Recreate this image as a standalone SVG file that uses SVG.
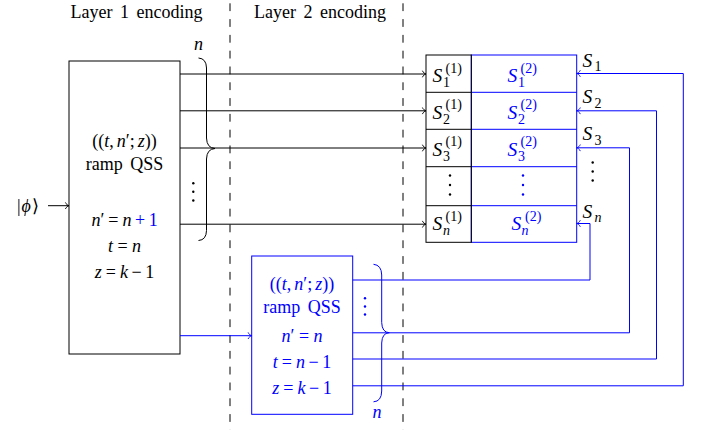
<svg xmlns="http://www.w3.org/2000/svg" width="704" height="430" viewBox="0 0 704 430" font-family="'Liberation Serif', 'Times New Roman', 'DejaVu Serif', serif">
<style>
text{font-family:'Liberation Serif','Times New Roman','DejaVu Serif',serif;font-size:18px;fill:#000}
.t{word-spacing:3px}
.m{font-style:italic}
.b{fill:#0000ff}
.S{font-size:19.5px;font-style:italic}
.sm{font-size:14px}
.mid{text-anchor:middle}
.k{stroke:#000;stroke-width:1;fill:none}
.bl{stroke:#0000ff;stroke-width:1;fill:none}
.dash{stroke:#000;stroke-width:1;stroke-dasharray:7.8 8}
</style>
<defs>
<marker id="ak" markerUnits="userSpaceOnUse" markerWidth="10" markerHeight="10" viewBox="-5 -5 10 10" refX="0" refY="0" orient="auto">
<path d="M-3.6,-3.3 C-3,-1.4 -1,-0.3 0,0 C-1,0.3 -3,1.4 -3.6,3.3" fill="none" stroke="#000" stroke-width="0.9"/>
</marker>
<marker id="ab" markerUnits="userSpaceOnUse" markerWidth="10" markerHeight="10" viewBox="-5 -5 10 10" refX="0" refY="0" orient="auto">
<path d="M-3.6,-3.3 C-3,-1.4 -1,-0.3 0,0 C-1,0.3 -3,1.4 -3.6,3.3" fill="none" stroke="#0000ff" stroke-width="0.9"/>
</marker>
</defs>
<rect width="704" height="430" fill="#fff"/>

<g id="layer-separators">
<line class="dash" x1="230" y1="3.3" x2="230" y2="430"/>
<line class="dash" x1="403" y1="3.3" x2="403" y2="430"/>
<text class="t mid" x="136.5" y="17.5">Layer 1 encoding</text>
<text class="t mid" x="320" y="17.5">Layer 2 encoding</text>
</g>

<g id="input">
<text x="17" y="212" font-size="20">|<tspan class="m" dx="1">ϕ</tspan><tspan dx="1">⟩</tspan></text>
</g>

<g id="layer1">
<rect class="k" x="69" y="61" width="111" height="293"/>
<text class="mid" x="124.5" y="146.5">((<tspan class="m">t</tspan>,<tspan class="m" dx="3">n</tspan>′;<tspan class="m" dx="3">z</tspan>))</text>
<text class="t mid" x="124.5" y="170">ramp QSS</text>
<text class="mid" x="124.5" y="225.5"><tspan class="m">n</tspan>′<tspan dx="4">=</tspan><tspan class="m" dx="4">n</tspan><tspan class="b" dx="3.5">+</tspan><tspan class="b" dx="3.5">1</tspan></text>
<text class="mid" x="124.5" y="251.5"><tspan class="m">t</tspan><tspan dx="4.5">=</tspan><tspan class="m" dx="4.5">n</tspan></text>
<text class="mid" x="124.5" y="277.5"><tspan class="m">z</tspan><tspan dx="4">=</tspan><tspan class="m" dx="4">k</tspan><tspan dx="3.5">−</tspan><tspan dx="3.5">1</tspan></text>
</g>

<g id="layer1-brace">
<path class="k" d="M198.5,58 Q206.3,58.5 206.5,68 L206.5,138 Q206.8,148 215,148.5 Q206.8,149 206.5,159 L206.5,230.5 Q206.3,240 198.5,240.5"/>
<text class="m mid" x="198.5" y="50">n</text>
<circle cx="193.3" cy="183.3" r="1.2"/>
<circle cx="193.3" cy="191.8" r="1.2"/>
<circle cx="193.3" cy="200.5" r="1.2"/>
</g>

<g id="layer2">
<rect class="bl" x="251.7" y="256" width="101" height="158.3"/>
<text class="b mid" x="302" y="289.5">((<tspan class="m">t</tspan>,<tspan class="m" dx="3">n</tspan>′;<tspan class="m" dx="3">z</tspan>))</text>
<text class="b t mid" x="302" y="313">ramp QSS</text>
<text class="b mid" x="302" y="341.5"><tspan class="m">n</tspan>′<tspan dx="4.5">=</tspan><tspan class="m" dx="4.5">n</tspan></text>
<text class="b mid" x="302" y="367.5"><tspan class="m">t</tspan><tspan dx="4">=</tspan><tspan class="m" dx="4">n</tspan><tspan dx="3.5">−</tspan><tspan dx="3.5">1</tspan></text>
<text class="b mid" x="302" y="393.5"><tspan class="m">z</tspan><tspan dx="4">=</tspan><tspan class="m" dx="4">k</tspan><tspan dx="3.5">−</tspan><tspan dx="3.5">1</tspan></text>
</g>

<g id="layer2-brace">
<path class="bl" d="M373.5,264.3 Q381.5,265 381.7,275 L381.7,322.5 Q382,332.5 389.3,332.7 Q382,333 381.7,343 L381.7,391 Q381.5,401.5 373.5,401.8"/>
<text class="b m mid" x="377" y="418">n</text>
<circle cx="365" cy="298.3" r="1.2" fill="#0000ff"/>
<circle cx="365" cy="306.5" r="1.2" fill="#0000ff"/>
<circle cx="365" cy="314.5" r="1.2" fill="#0000ff"/>
</g>

<g id="register">
<rect class="bl" x="471.3" y="55" width="105.4" height="187.3"/>
<line class="bl" x1="471.3" y1="92.3" x2="576.7" y2="92.3"/>
<line class="bl" x1="471.3" y1="129.3" x2="576.7" y2="129.3"/>
<line class="bl" x1="471.3" y1="166.7" x2="576.7" y2="166.7"/>
<line class="bl" x1="471.3" y1="205.7" x2="576.7" y2="205.7"/>
<rect class="k" x="426" y="55" width="45.3" height="187.3"/>
<line class="k" x1="426" y1="92.3" x2="471.3" y2="92.3"/>
<line class="k" x1="426" y1="129.3" x2="471.3" y2="129.3"/>
<line class="k" x1="426" y1="166.7" x2="471.3" y2="166.7"/>
<line class="k" x1="426" y1="205.7" x2="471.3" y2="205.7"/>

<text class="S" x="432.5" y="82">S</text><text class="sm" x="445.5" y="72.5">(1)</text><text class="sm" x="443" y="87">1</text>
<text class="S" x="432.5" y="118.5">S</text><text class="sm" x="445.5" y="109">(1)</text><text class="sm" x="443" y="123.5">2</text>
<text class="S" x="432.5" y="155.5">S</text><text class="sm" x="445.5" y="146">(1)</text><text class="sm" x="443" y="160.5">3</text>
<text class="S" x="432.5" y="230">S</text><text class="sm" x="445.5" y="220.5">(1)</text><text class="sm m" x="443" y="235">n</text>
<circle cx="450" cy="175.5" r="1.2"/><circle cx="450" cy="185" r="1.2"/><circle cx="450" cy="194.5" r="1.2"/>

<text class="S b" x="507.5" y="82">S</text><text class="sm b" x="520.5" y="72.5">(2)</text><text class="sm b" x="518" y="87">1</text>
<text class="S b" x="507.5" y="118.5">S</text><text class="sm b" x="520.5" y="109">(2)</text><text class="sm b" x="518" y="123.5">2</text>
<text class="S b" x="507.5" y="155.5">S</text><text class="sm b" x="520.5" y="146">(2)</text><text class="sm b" x="518" y="160.5">3</text>
<text class="S b" x="511.5" y="230">S</text><text class="sm b" x="525" y="220.5">(2)</text><text class="sm b m" x="521.5" y="235">n</text>
<circle cx="523" cy="175.5" r="1.2" fill="#0000ff"/><circle cx="523" cy="185" r="1.2" fill="#0000ff"/><circle cx="523" cy="194.5" r="1.2" fill="#0000ff"/>

<text class="S" x="582.5" y="66.7">S</text><text class="sm" x="594.5" y="71">1</text>
<text class="S" x="582.5" y="103.3">S</text><text class="sm" x="594.5" y="107.7">2</text>
<text class="S" x="582.5" y="140.3">S</text><text class="sm" x="594.5" y="144.7">3</text>
<text class="S" x="582.5" y="218">S</text><text class="sm m" x="594.5" y="222.4">n</text>
<circle cx="592.7" cy="162.5" r="1.2"/><circle cx="592.7" cy="171.5" r="1.2"/><circle cx="592.7" cy="180.5" r="1.2"/>
</g>

<g id="connectors">
<line class="k" x1="48" y1="205.7" x2="69" y2="205.7" marker-end="url(#ak)"/>
<line class="k" x1="180" y1="74" x2="426" y2="74" marker-end="url(#ak)"/>
<line class="k" x1="180" y1="110.8" x2="426" y2="110.8" marker-end="url(#ak)"/>
<line class="k" x1="180" y1="148" x2="426" y2="148" marker-end="url(#ak)"/>
<line class="k" x1="180" y1="224.2" x2="426" y2="224.2" marker-end="url(#ak)"/>
<line class="bl" x1="180" y1="335.7" x2="251.7" y2="335.7" marker-end="url(#ab)"/>
<polyline class="bl" points="352.7,280 590,280 590,223.5 576.7,223.5" marker-end="url(#ab)"/>
<polyline class="bl" points="352.7,332.8 629.5,332.8 629.5,147.8 576.7,147.8" marker-end="url(#ab)"/>
<polyline class="bl" points="352.7,359 656.5,359 656.5,110.8 576.7,110.8" marker-end="url(#ab)"/>
<polyline class="bl" points="352.7,385.8 683.3,385.8 683.3,73.5 576.7,73.5" marker-end="url(#ab)"/>
</g>
</svg>
